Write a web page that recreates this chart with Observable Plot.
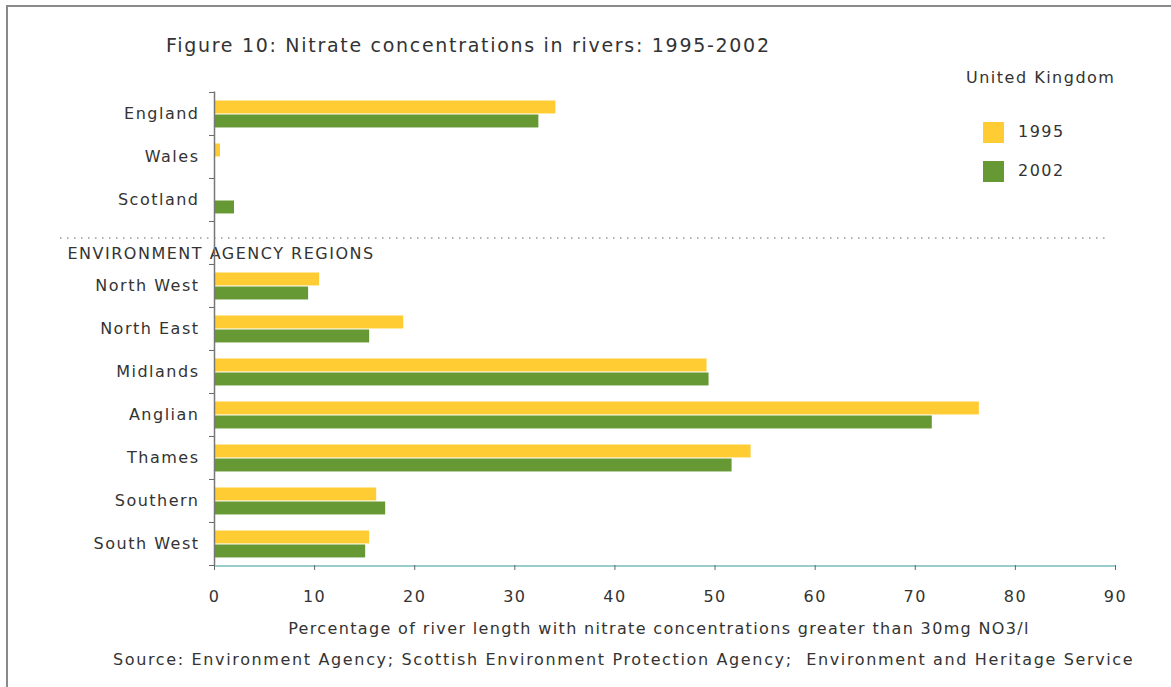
<!DOCTYPE html>
<html>
<head>
<meta charset="utf-8">
<script src="https://cdn.jsdelivr.net/npm/d3@7"></script>
<script src="https://cdn.jsdelivr.net/npm/@observablehq/plot@0.6"></script>
<style>
  html, body { margin: 0; padding: 0; background: #fff; }
  body { width: 1171px; height: 687px; position: relative; overflow: hidden; font-family: "DejaVu Sans", Verdana, sans-serif; color: #333; }
  .frame { position: absolute; left: 6px; top: 5px; width: 1300px; height: 800px; border: 2px solid #8a8a8a; box-sizing: border-box; }
  #chart { position: absolute; left: 0; top: 0; }
  .abs { position: absolute; white-space: nowrap; line-height: 1; letter-spacing: 1.5px; }
  .title { left: 166px; top: 36px; font-size: 19px; letter-spacing: 1.7px; }
  .legtitle { left: 966px; top: 70px; font-size: 16px; }
  .sw { width: 21px; height: 21px; }
  .leglab { font-size: 16px; }
  .source { left: 113px; top: 652px; font-size: 16px; letter-spacing: 1.64px; }
</style>
</head>
<body>
<div class="frame"></div>
<div id="chart"></div>
<div class="abs title">Figure 10: Nitrate concentrations in rivers: 1995-2002</div>
<div class="abs legtitle">United Kingdom</div>
<div class="abs sw" id="sw0" style="left:983px; top:122px;"></div>
<div class="abs leglab" id="lab0" style="left:1018px; top:124px;"></div>
<div class="abs sw" id="sw1" style="left:983px; top:161px;"></div>
<div class="abs leglab" id="lab1" style="left:1018px; top:163px;"></div>
<div class="abs source">Source: Environment Agency; Scottish Environment Protection Agency;&nbsp; Environment and Heritage Service</div>
<script>
// ---- data ----
const GAP = "ENVIRONMENT AGENCY REGIONS";
const categories = ["England", "Wales", "Scotland", GAP, "North West", "North East", "Midlands", "Anglian", "Thames", "Southern", "South West"];
const regions = ["England", "Wales", "Scotland", "North West", "North East", "Midlands", "Anglian", "Thames", "Southern", "South West"];
const years = ["1995", "2002"];
const values1995 = [34.1, 0.6, 0, 10.5, 18.9, 49.2, 76.4, 53.6, 16.2, 15.5];
const values2002 = [32.4, 0, 2.0, 9.4, 15.5, 49.4, 71.7, 51.7, 17.1, 15.1];
const xTicks = [0, 10, 20, 30, 40, 50, 60, 70, 80, 90];
const colors = ["#ffcc33", "#669933"];
const xLabel = "Percentage of river length with nitrate concentrations greater than 30mg NO3/l";

const rows = [];
regions.forEach((r, i) => {
  rows.push({region: r, year: years[0], value: values1995[i]});
  rows.push({region: r, year: years[1], value: values2002[i]});
});

// legend
years.forEach((y, i) => {
  document.getElementById("sw" + i).style.background = colors[i];
  document.getElementById("lab" + i).textContent = y;
});

const W = 1171, H = 640;
const plotTop = 91.5, plotBottom = 565;
const band = (plotBottom - plotTop) / categories.length;

const chart = Plot.plot({
  width: W,
  height: H,
  marginLeft: 214,
  marginRight: W - 1115,
  marginTop: plotTop,
  marginBottom: H - plotBottom,
  style: {fontFamily: "'DejaVu Sans', Verdana, sans-serif", fontSize: "16px", color: "#333", background: "transparent", letterSpacing: "1.5px"},
  x: {domain: [0, 90]},
  y: {domain: categories, padding: 0},
  color: {domain: years, range: colors},
  marks: [
    // dotted separator
    Plot.ruleY([GAP], {y: d => d, dy: -5, stroke: "#999", strokeDasharray: "1.5,5.5", strokeWidth: 1.5, insetLeft: -154, insetRight: 5}),
    Plot.text([GAP], {y: d => d, text: d => d, frameAnchor: "left", textAnchor: "start", dx: -147, dy: 11, fill: "#333", fontSize: 16}),
    // bars
    Plot.barX(rows.filter(d => d.year === years[0]), {y: "region", x: "value", fill: "year", insetTop: 8.5, insetBottom: band - 21.5}),
    Plot.barX(rows.filter(d => d.year === years[1]), {y: "region", x: "value", fill: "year", insetTop: 22.5, insetBottom: band - 35.5}),
    // y axis
    Plot.axisY({tickSize: 0, tickPadding: 15, tickFormat: d => d === GAP ? "" : d, fill: "#333", fontSize: 16, label: null}),
    Plot.axisY({text: null, tickSize: 5, dy: -band / 2, stroke: "#666", label: null}),
    Plot.axisY({ticks: [categories[categories.length - 1]], text: null, tickSize: 5, dy: band / 2, stroke: "#666", label: null}),
    Plot.ruleX([0], {stroke: "#777", strokeWidth: 1.5}),
    // x axis
    Plot.ruleY([categories[categories.length - 1]], {y: d => d, dy: band / 2 + 0.5, stroke: "#99cccc", strokeWidth: 2}),
    Plot.axisX({ticks: xTicks, tickSize: 5, tickPadding: 20, stroke: "#666", fill: "#333", fontSize: 16,
                label: xLabel, labelAnchor: "center", labelOffset: 68, labelArrow: "none"})
  ]
});
const xl = chart.querySelector('[aria-label="x-axis label"]');
if (xl) {
  xl.style.letterSpacing = "1.35px";
  xl.setAttribute("transform", ((xl.getAttribute("transform") || "") + " translate(-6,0)").trim());
}
document.getElementById("chart").appendChild(chart);
</script>
</body>
</html>
